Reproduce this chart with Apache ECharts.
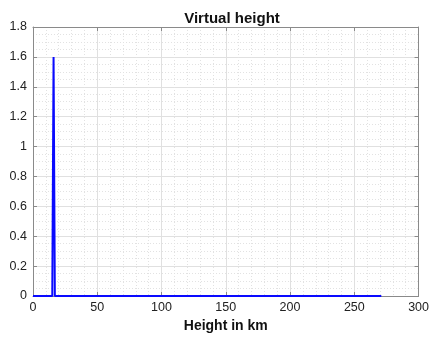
<!DOCTYPE html>
<html>
<head>
<meta charset="utf-8">
<title>Virtual height</title>
<script src="https://cdn.jsdelivr.net/npm/echarts@6/dist/echarts.min.js"></script>
<style>
  html, body { margin: 0; padding: 0; background: #ffffff; }
  #chart { width: 432px; height: 338px; }
</style>
</head>
<body>
<div id="chart"></div>
<script>
// Reflection profile: amplitude against virtual height (km)
var heightKm = [0, 15, 16, 17, 271];
var amplitude = [0, 0, 1.6, 0, 0];

var xTicks = [0, 50, 100, 150, 200, 250, 300];
var yTicks = [0, 0.2, 0.4, 0.6, 0.8, 1, 1.2, 1.4, 1.6, 1.8];

var FONT = 'Liberation Sans, Arial, Helvetica, sans-serif';
var boxColor = '#8a8a8a';

function frameAxis(extra) {
  var base = {
    type: 'value',
    axisLine: { show: true, onZero: false, lineStyle: { color: boxColor, width: 1 } },
    axisTick: { show: true, inside: true, length: 4, lineStyle: { color: boxColor } },
    axisLabel: { show: false },
    splitLine: { show: false },
    minorTick: { show: false }
  };
  return Object.assign(base, extra);
}

var chart = echarts.init(document.getElementById('chart'), null, { renderer: 'canvas' });

chart.setOption({
  backgroundColor: '#ffffff',
  animation: false,
  title: {
    text: 'Virtual height',
    left: 227,
    top: 6,
    textAlign: 'center',
    textStyle: { fontFamily: FONT, fontSize: 15, fontWeight: 'bold', color: '#111111' }
  },
  grid: { left: 33, right: 10, top: 27, bottom: 37, containLabel: false },
  xAxis: [
    {
      type: 'value',
      min: xTicks[0],
      max: xTicks[xTicks.length - 1],
      interval: 50,
      name: 'Height in km',
      nameLocation: 'middle',
      nameGap: 23,
      nameTextStyle: { fontFamily: FONT, fontSize: 14, fontWeight: 'bold', color: '#111111' },
      axisLine: { show: true, onZero: false, lineStyle: { color: boxColor, width: 1 } },
      axisTick: { show: true, inside: true, length: 4, lineStyle: { color: boxColor } },
      axisLabel: { fontFamily: FONT, fontSize: 12.5, color: '#222222', margin: 5 },
      splitLine: { show: true, lineStyle: { color: '#e0e0e0', width: 1 } },
      minorTick: { show: false, splitNumber: 5 },
      minorSplitLine: { show: true, lineStyle: { color: '#e2e2e2', type: [1, 2], width: 1 } }
    },
    frameAxis({ position: 'top', min: 0, max: 300, interval: 50 })
  ],
  yAxis: [
    {
      type: 'value',
      min: yTicks[0],
      max: yTicks[yTicks.length - 1],
      interval: 0.2,
      axisLine: { show: true, onZero: false, lineStyle: { color: boxColor, width: 1 } },
      axisTick: { show: true, inside: true, length: 4, lineStyle: { color: boxColor } },
      axisLabel: {
        fontFamily: FONT, fontSize: 12.5, color: '#222222', margin: 6,
        formatter: function (v) { return String(Math.round(v * 10) / 10); }
      },
      splitLine: { show: true, lineStyle: { color: '#e0e0e0', width: 1 } },
      minorTick: { show: false, splitNumber: 4 },
      minorSplitLine: { show: true, lineStyle: { color: '#e2e2e2', type: [1, 2], width: 1 } }
    },
    frameAxis({ position: 'right', min: 0, max: 1.8, interval: 0.2 })
  ],
  series: [
    {
      type: 'line',
      data: heightKm.map(function (h, i) { return [h, amplitude[i]]; }),
      showSymbol: false,
      symbol: 'none',
      lineStyle: { color: '#0a0aff', width: 2 },
      clip: false,
      z: 5
    }
  ]
});
</script>
</body>
</html>
